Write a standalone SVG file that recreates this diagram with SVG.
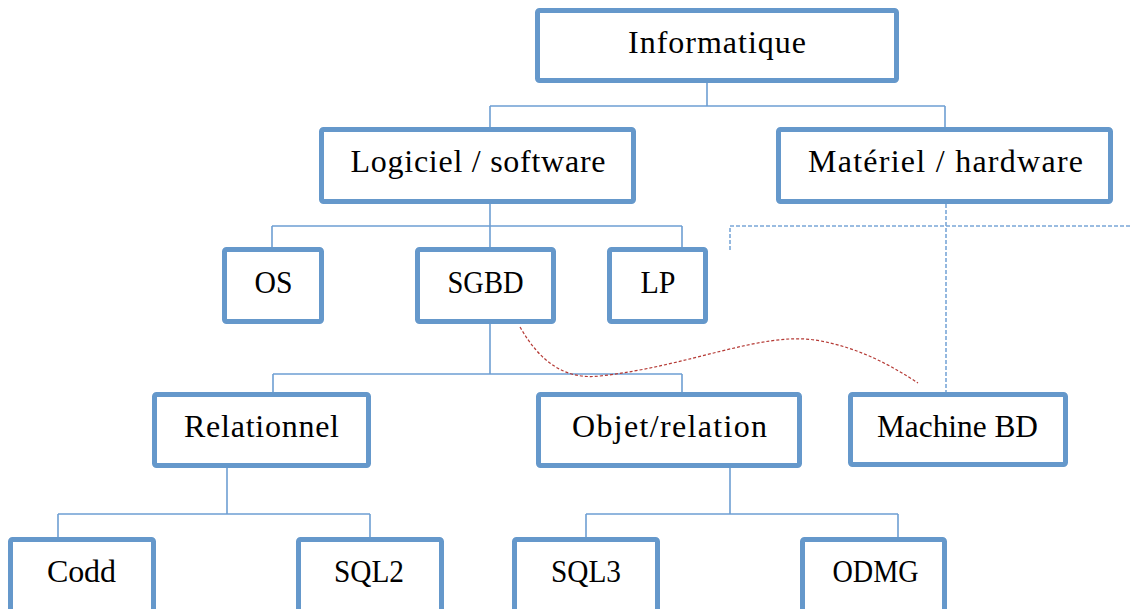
<svg xmlns="http://www.w3.org/2000/svg" width="1130" height="609" viewBox="0 0 1130 609">
<style>
.box{fill:#fff;stroke:#6598CB;stroke-width:5;}
.lbl{font-family:"Liberation Serif","DejaVu Serif",serif;font-size:32px;fill:#000;text-anchor:middle;}
.con{fill:none;stroke:#6E9FD3;stroke-width:1.6;}
.dash{fill:none;stroke:#7AA7D8;stroke-width:1.6;stroke-dasharray:4 2;}
.red{fill:none;stroke:#B53A35;stroke-width:1.2;stroke-dasharray:3 2;}
</style>
<rect width="1130" height="609" fill="#fff"/>
<g id="connectors">
<path class="con" d="M707,83 V106 M490,106 H945 M490,106 V127 M945,106 V127"/>
<path class="con" d="M490,204 V247 M272,226 H682 M272,226 V247 M682,226 V247"/>
<path class="con" d="M490,324 V374 M273,374 H682 M273,374 V392 M682,374 V392"/>
<path class="con" d="M227,468 V514 M58,514 H370 M58,514 V537 M370,514 V537"/>
<path class="con" d="M730,468 V514 M586,514 H898 M586,514 V537 M898,514 V537"/>
<path class="dash" d="M946,204 V393 M730,250 V226 H1130"/>
<path class="red" d="M520,327 C540,362 565,380 600,376 C690,366 760,332 815,340 C860,347 895,368 918,383"/>
</g>
<g id="informatique"><rect class="box" x="537.5" y="10.5" width="359" height="70" rx="2"/><text class="lbl" x="717" y="53" textLength="178" lengthAdjust="spacing">Informatique</text></g>
<g id="logiciel"><rect class="box" x="321.5" y="129.5" width="312" height="72" rx="2"/><text class="lbl" x="478" y="172" textLength="255" lengthAdjust="spacing">Logiciel / software</text></g>
<g id="materiel"><rect class="box" x="778.5" y="129.5" width="332" height="72" rx="2"/><text class="lbl" x="945.5" y="172" textLength="275" lengthAdjust="spacing">Matériel / hardware</text></g>
<g id="os"><rect class="box" x="224.5" y="249.5" width="97" height="72" rx="2"/><text class="lbl" x="273.5" y="293" textLength="38" lengthAdjust="spacingAndGlyphs">OS</text></g>
<g id="sgbd"><rect class="box" x="417.5" y="249.5" width="136" height="72" rx="2"/><text class="lbl" x="485.5" y="293" textLength="76" lengthAdjust="spacingAndGlyphs">SGBD</text></g>
<g id="lp"><rect class="box" x="609.5" y="249.5" width="96" height="72" rx="2"/><text class="lbl" x="658" y="293" textLength="35" lengthAdjust="spacingAndGlyphs">LP</text></g>
<g id="relationnel"><rect class="box" x="154.5" y="394.5" width="214" height="71" rx="2"/><text class="lbl" x="261.5" y="437" textLength="155" lengthAdjust="spacing">Relationnel</text></g>
<g id="objet"><rect class="box" x="538.5" y="394.5" width="261" height="71" rx="2"/><text class="lbl" x="669.5" y="437" textLength="195" lengthAdjust="spacing">Objet/relation</text></g>
<g id="machine"><rect class="box" x="850.5" y="394.5" width="215" height="70" rx="2"/><text class="lbl" x="957.5" y="437" textLength="161" lengthAdjust="spacingAndGlyphs">Machine BD</text></g>
<g id="codd"><rect class="box" x="10.5" y="539.5" width="143" height="80" rx="2"/><text class="lbl" x="81.5" y="582" textLength="69" lengthAdjust="spacing">Codd</text></g>
<g id="sql2"><rect class="box" x="298.5" y="539.5" width="143" height="80" rx="2"/><text class="lbl" x="369" y="582" textLength="70" lengthAdjust="spacingAndGlyphs">SQL2</text></g>
<g id="sql3"><rect class="box" x="514.5" y="539.5" width="143" height="80" rx="2"/><text class="lbl" x="586" y="582" textLength="70" lengthAdjust="spacingAndGlyphs">SQL3</text></g>
<g id="odmg"><rect class="box" x="802.5" y="539.5" width="142" height="80" rx="2"/><text class="lbl" x="875.5" y="582" textLength="86" lengthAdjust="spacingAndGlyphs">ODMG</text></g>
</svg>
